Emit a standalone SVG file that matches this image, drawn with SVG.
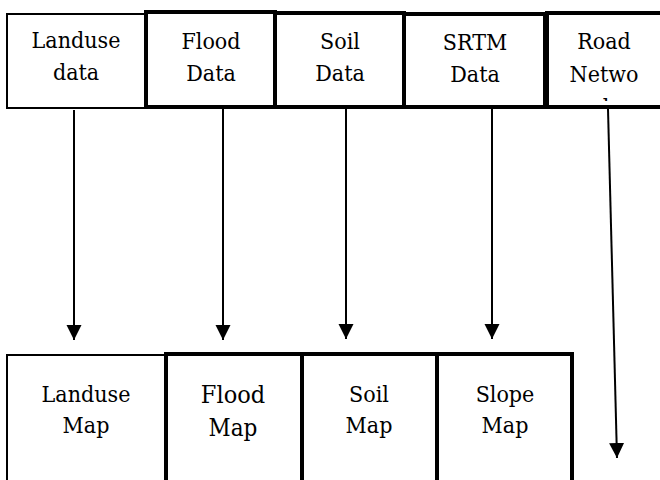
<svg xmlns="http://www.w3.org/2000/svg" width="660" height="480" viewBox="0 0 660 480">
<style>
.box{fill:#fff;stroke:#000}
.thin{stroke-width:2}
.thick{stroke-width:4}
.t{font-family:'DejaVu Serif Condensed','DejaVu Serif',serif;font-stretch:condensed;font-size:23px;fill:#000;text-anchor:middle}
.f28{font-size:25px}
.f27{font-size:24px}
.conn line{stroke:#000;stroke-width:2}
</style>
<defs>
<marker id="ah" markerUnits="userSpaceOnUse" markerWidth="16" markerHeight="16" viewBox="0 0 16 16" refX="15" refY="8" orient="auto">
<path d="M0,0.5 L15,8 L0,15.5 z" fill="#000"/>
</marker>
<clipPath id="roadclip"><rect x="549" y="15" width="120" height="86"/></clipPath>
</defs>
<rect width="660" height="480" fill="#fff"/>
<g id="landuse-data"><rect class="box thin" x="7" y="14" width="139" height="94"/><text class="t" x="76" y="48">Landuse</text><text class="t" x="76" y="80">data</text></g>
<g id="flood-data"><rect class="box thick" x="146" y="12" width="129" height="95"/><text class="t" x="211" y="49">Flood</text><text class="t" x="211" y="81">Data</text></g>
<g id="soil-data"><rect class="box thick" x="275" y="13" width="129" height="94"/><text class="t" x="340" y="49">Soil</text><text class="t" x="340" y="81">Data</text></g>
<g id="srtm-data"><rect class="box thick" x="404" y="14" width="141" height="93"/><text class="t" x="475" y="50">SRTM</text><text class="t" x="475" y="82">Data</text></g>
<g id="road-network"><rect class="box thick" x="547" y="13" width="130" height="94"/><g clip-path="url(#roadclip)"><text class="t" x="604" y="49">Road</text><text class="t" x="604" y="82">Netwo</text><text class="t" x="604" y="115">rk</text></g></g>
<g id="landuse-map"><rect class="box thin" x="7" y="355" width="159" height="200"/><text class="t" x="86" y="402">Landuse</text><text class="t" x="86" y="433">Map</text></g>
<g id="flood-map"><rect class="box thick" x="166" y="354" width="136" height="200"/><text class="t f28" x="233" y="403">Flood</text><text class="t f27" x="233" y="436">Map</text></g>
<g id="soil-map"><rect class="box thick" x="302" y="354" width="135" height="200"/><text class="t" x="369" y="402">Soil</text><text class="t" x="369" y="433">Map</text></g>
<g id="slope-map"><rect class="box thick" x="437" y="354" width="135" height="200"/><text class="t" x="505" y="402">Slope</text><text class="t" x="505" y="433">Map</text></g>
<g class="conn" id="connectors">
<line x1="74" y1="110" x2="74" y2="340" marker-end="url(#ah)"/>
<line x1="223" y1="109" x2="223" y2="340" marker-end="url(#ah)"/>
<line x1="346" y1="109" x2="346" y2="339" marker-end="url(#ah)"/>
<line x1="492" y1="109" x2="492" y2="339" marker-end="url(#ah)"/>
<line x1="608" y1="109" x2="617" y2="458" marker-end="url(#ah)"/>
</g>
</svg>
